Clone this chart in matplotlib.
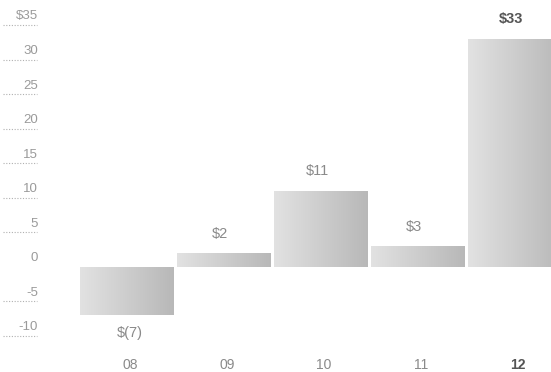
import numpy as np
import matplotlib
matplotlib.use("Agg")
import matplotlib.pyplot as plt
from matplotlib.transforms import ScaledTranslation, blended_transform_factory

years = ["08", "09", "10", "11", "12"]
values = [-7, 2, 11, 3, 33]
value_labels = ["$(7)", "$2", "$11", "$3", "$33"]
y_ticks = [35, 30, 25, 20, 15, 10, 5, 0, -5, -10]
y_tick_labels = ["$35", "30", "25", "20", "15", "10", "5", "0", "-5", "-10"]

plt.rcParams["font.family"] = ["Liberation Sans Narrow", "Liberation Sans", "DejaVu Sans"]

W, H, DPI = 551, 372, 100
fig = plt.figure(figsize=(W / DPI, H / DPI), dpi=DPI)
ax = fig.add_axes([85 / W, 36 / H, (W - 85) / W, (336 - 25) / H])
XLIM = (-0.464, 4.34)
ax.set_xlim(*XLIM)
ax.set_ylim(-10, 35)
for s in ax.spines.values():
    s.set_visible(False)

x = np.arange(len(years))
bars = ax.bar(x - 0.04, values, width=0.96, color="none", edgecolor="none")

# horizontal gradient fill for each bar, lighter on the left
grad = np.linspace(0, 1, 256).reshape(1, -1)
cmap = matplotlib.colors.LinearSegmentedColormap.from_list("g", ["#e2e2e2", "#b8b8b8"])
for b in bars:
    x0, y0 = b.get_x(), b.get_y()
    w, h = b.get_width(), b.get_height()
    im = ax.imshow(grad, cmap=cmap, aspect="auto",
                   extent=[x0, x0 + w, min(y0, y0 + h), max(y0, y0 + h)],
                   interpolation="bilinear", zorder=2)
    im.set_clip_path(b)
ax.set_xlim(*XLIM)
ax.set_ylim(-10, 35)

# value labels
for i, (v, lab) in enumerate(zip(values, value_labels)):
    bold = i == len(values) - 1
    if v >= 0:
        ax.annotate(lab, (x[i] - 0.07, v), xytext=(0, 9), textcoords="offset points",
                    ha="center", va="bottom", fontsize=10.5,
                    color="#555555" if bold else "#8a8a8a",
                    fontweight="bold" if bold else "normal")
    else:
        ax.annotate(lab, (x[i], v), xytext=(0, -8), textcoords="offset points",
                    ha="center", va="top", fontsize=10.5, color="#8a8a8a")

# category axis
ax.set_xticks(x)
ax.set_xticklabels(years, fontsize=10, color="#8a8a8a")
ax.tick_params(axis="x", length=0, pad=16)
lbl = ax.get_xticklabels()[-1]
lbl.set_fontweight("bold")
lbl.set_color("#555555")

# value axis: labels sit above dotted tick lines
ax.set_yticks(y_ticks)
ax.set_yticklabels(y_tick_labels, fontsize=9.5, color="#9a9a9a")
ax.tick_params(axis="y", length=0, pad=34)
shift = ScaledTranslation(0, 10 / DPI, fig.dpi_scale_trans)
for t in ax.get_yticklabels():
    t.set_transform(t.get_transform() + shift)

trans = blended_transform_factory(fig.transFigure, ax.transData)
for yv in y_ticks:
    if yv == 0:
        continue
    ax.plot([3 / W, 37 / W], [yv, yv], transform=trans, color="#b0b0b0",
            lw=0.8, ls=(0, (1, 1.5)), clip_on=False)

fig.savefig("out.png", dpi=DPI, facecolor="white")
